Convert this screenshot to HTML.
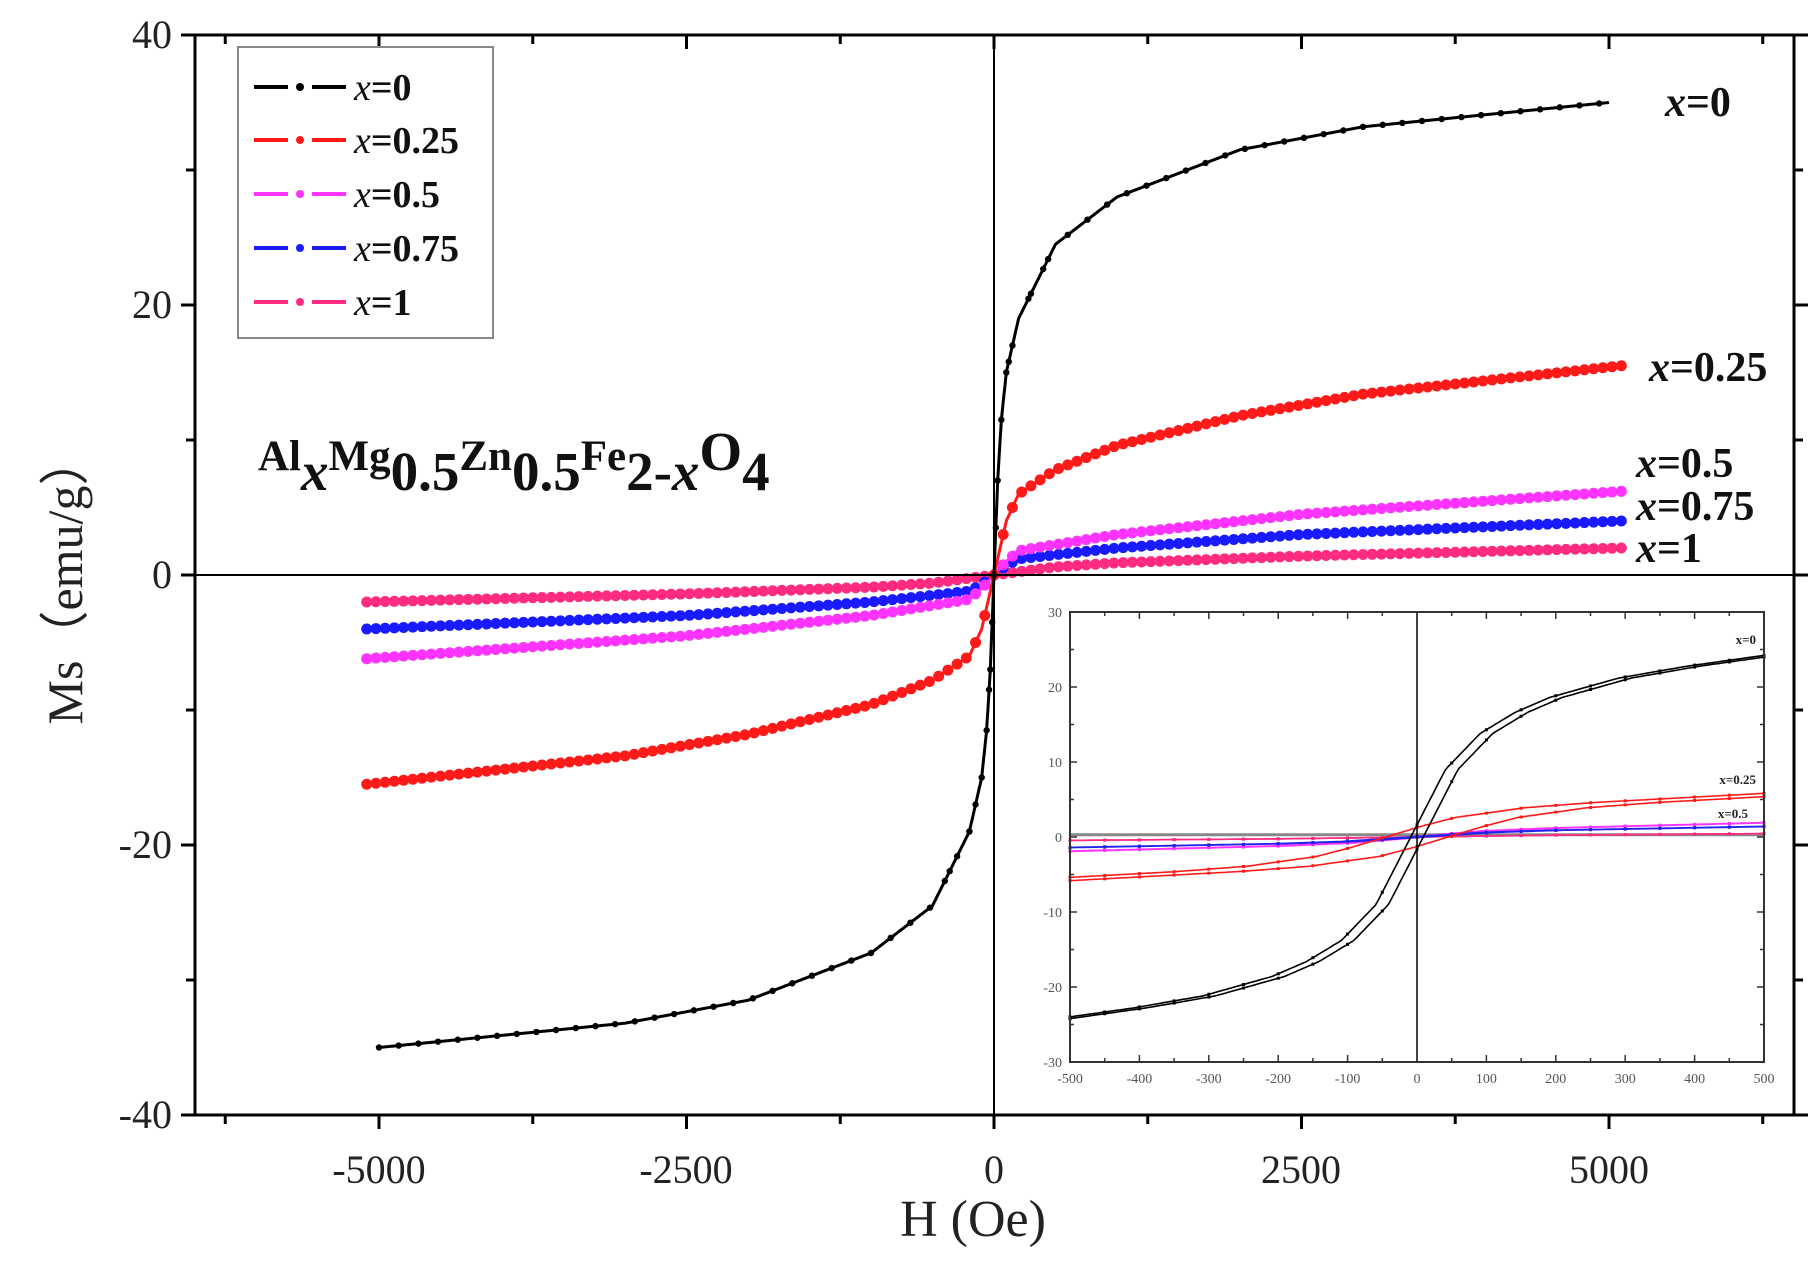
<!DOCTYPE html>
<html><head><meta charset="utf-8"><style>
html,body{margin:0;padding:0;background:#fff;}
svg{display:block;font-family:"Liberation Serif",serif;}
</style></head><body>
<svg id="s" width="1817" height="1267" viewBox="0 0 1817 1267" xmlns="http://www.w3.org/2000/svg">
<rect width="1817" height="1267" fill="#fff"/>
<g id="main"></g>
<rect x="195" y="35" width="1599" height="1080" fill="none" stroke="#000" stroke-width="3"/>
<line x1="195" y1="575" x2="1794" y2="575" stroke="#000" stroke-width="2"/>
<line x1="994" y1="35" x2="994" y2="1115" stroke="#000" stroke-width="2"/>
<g id="ticks"></g>
<g font-size="40" fill="#222" text-anchor="end">
<text x="172" y="48">40</text><text x="172" y="318">20</text><text x="172" y="588">0</text>
<text x="172" y="858">-20</text><text x="172" y="1128">-40</text>
</g>
<g font-size="40" fill="#222" text-anchor="middle">
<text x="379" y="1183">-5000</text><text x="686" y="1183">-2500</text><text x="994" y="1183">0</text>
<text x="1301" y="1183">2500</text><text x="1609" y="1183">5000</text>
</g>
<text x="973" y="1236" font-size="52" text-anchor="middle" fill="#222">H (Oe)</text>
<text transform="translate(82,580) rotate(-90)" font-size="50" text-anchor="middle" fill="#222">Ms（emu/g）</text>
<rect x="238" y="47" width="255" height="291" fill="#fff" stroke="#888" stroke-width="2"/>
<g id="leg"></g>
<text x="258" y="470" font-weight="bold" fill="#111"><tspan font-size="43">Al</tspan><tspan font-size="55" font-style="italic" dy="20">x</tspan><tspan font-size="43" dy="-20">Mg</tspan><tspan font-size="55" dy="20">0.5</tspan><tspan font-size="43" dy="-20">Zn</tspan><tspan font-size="55" dy="20">0.5</tspan><tspan font-size="43" dy="-20">Fe</tspan><tspan font-size="55" dy="20">2-</tspan><tspan font-size="55" font-style="italic">x</tspan><tspan font-size="55" dy="-20">O</tspan><tspan font-size="55" dy="20">4</tspan></text>
<g font-size="42" font-weight="bold" fill="#111">
<text x="1665" y="116"><tspan font-style="italic">x</tspan>=0</text>
<text x="1649" y="381"><tspan font-style="italic">x</tspan>=0.25</text>
<text x="1636" y="477"><tspan font-style="italic">x</tspan>=0.5</text>
<text x="1636" y="520"><tspan font-style="italic">x</tspan>=0.75</text>
<text x="1636" y="562"><tspan font-style="italic">x</tspan>=1</text>
</g>
<rect x="1070" y="612" width="694" height="450" fill="#fff"/>
<g id="inset"></g>
<rect x="1070" y="612" width="694" height="450" fill="none" stroke="#333" stroke-width="2"/>
<line x1="1417" y1="612" x2="1417" y2="1062" stroke="#000" stroke-width="1.5"/>
<g id="iticks" font-size="14" fill="#555"></g>
<g font-size="13" font-weight="bold" fill="#222" text-anchor="end">
<text x="1756" y="644">x=0</text><text x="1756" y="784">x=0.25</text><text x="1748" y="818">x=0.5</text>
</g>
</svg>
<script>
var NS="http://www.w3.org/2000/svg";
function el(p,t,a){var e=document.createElementNS(NS,t);for(var k in a)e.setAttribute(k,a[k]);p.appendChild(e);return e;}
function interp(pts,h){var s=h<0?-1:1;h=Math.abs(h);for(var i=1;i<pts.length;i++){if(h<=pts[i][0]){var a=pts[i-1],b=pts[i];return s*(a[1]+(b[1]-a[1])*(h-a[0])/(b[0]-a[0]));}}var a=pts[pts.length-2],b=pts[pts.length-1];return s*(b[1]+(b[1]-a[1])*(h-b[0])/(b[0]-a[0]));}
var S=[
 {c:"#000",r:3.2,lim:5000,step:160,p:[[0,0],[30,7],[60,11.5],[100,15],[200,19],[500,24.5],[1000,28],[2000,31.5],[3000,33.2],[5000,35]]},
 {c:"#ff1a1a",r:5.5,lim:5100,step:75,p:[[0,0],[100,4],[200,6],[500,7.8],[1000,9.6],[2000,11.8],[3000,13.4],[5100,15.5]]},
 {c:"#ff33ff",r:5.5,lim:5100,step:75,p:[[0,0],[100,1],[200,1.8],[1000,3],[2500,4.5],[5100,6.2]]},
 {c:"#1a1aff",r:5.5,lim:5100,step:75,p:[[0,0],[100,0.7],[200,1.2],[1000,2],[2500,3],[5100,4]]},
 {c:"#ff2b80",r:5.5,lim:5100,step:75,p:[[0,0],[500,0.6],[1000,0.9],[2500,1.4],[5100,2]]}
];
var g=document.getElementById("main");
function X(h){return 994+h*0.123;}function Y(m){return 575-m*13.5;}
S.slice().reverse().forEach(function(s){
 var d="";for(var h=-s.lim;h<=s.lim;h+=5){d+=(d?"L":"M")+X(h).toFixed(1)+","+Y(interp(s.p,h)).toFixed(1);}
 el(g,"path",{d:d,fill:"none",stroke:s.c,"stroke-width":3});
 var hs=[];for(var h=-s.lim;h<=s.lim;h+=s.step)hs.push(h);
 if(s.c=="#000"){[-400,-300,-200,-150,-100,-60,-30,-15,0,15,30,60,100,150,300,400].forEach(function(v){hs.push(v)});}
 hs.forEach(function(h){el(g,"circle",{cx:X(h),cy:Y(interp(s.p,h)),r:s.r,fill:s.c});});
});
var t=document.getElementById("ticks");
for(var v=-6250;v<=6250;v+=1250){var x=X(v);var big=(v%2500==0);
 el(t,"line",{x1:x,y1:1115,x2:x,y2:1115+(big?14:9),stroke:"#000","stroke-width":3});
 el(t,"line",{x1:x,y1:35,x2:x,y2:35+(big?14:9),stroke:"#000","stroke-width":3});}
for(var m=-40;m<=40;m+=10){var y=Y(m);var big=(m%20==0);
 el(t,"line",{x1:195,y1:y,x2:195-(big?14:9),y2:y,stroke:"#000","stroke-width":3});
 el(t,"line",{x1:1794,y1:y,x2:1794+(big?14:9),y2:y,stroke:"#000","stroke-width":3});}
var L=document.getElementById("leg");var labs=["0","0.25","0.5","0.75","1"];var ly=[87,140,194,248,302];
S.forEach(function(s,i){var y=ly[i];
 el(L,"line",{x1:254,y1:y,x2:288,y2:y,stroke:s.c,"stroke-width":4});
 el(L,"line",{x1:312,y1:y,x2:346,y2:y,stroke:s.c,"stroke-width":4});
 el(L,"circle",{cx:300,cy:y,r:4,fill:s.c});
 var tx=el(L,"text",{x:354,y:y+13,"font-size":38,"font-weight":"bold",fill:"#111"});
 var ts=el(tx,"tspan",{"font-style":"italic","font-weight":"normal"});ts.textContent="x";
 var t2=el(tx,"tspan",{});t2.textContent="="+labs[i];});
var I=document.getElementById("inset");
function IX(h){return 1417+h*0.694;}function IY(m){return 837-m*7.5;}
el(I,"line",{x1:1070,y1:IY(0.3),x2:1764,y2:IY(0.3),stroke:"#888","stroke-width":3});
var IS=[
 {c:"#ff2b80",c0:5,p:[[0,0],[200,0.25],[500,0.45]]},
 {c:"#ff33ff",c0:10,p:[[0,0],[100,0.8],[200,1.2],[500,1.9]]},
 {c:"#2222ee",c0:10,p:[[0,0],[100,0.6],[200,0.9],[500,1.4]]},
 {c:"#ff1a1a",c0:45,p:[[0,0],[50,1.4],[100,2.6],[200,3.9],[300,4.6],[500,5.6]]},
 {c:"#000",c0:9,p:[[0,0],[50,9],[100,13.8],[150,16.6],[200,18.6],[300,21.2],[400,22.8],[500,24.1]]}
];
IS.forEach(function(s){
 [1,-1].forEach(function(dir){var d="";
  for(var h=-500;h<=500;h+=4){var m=interp(s.p,h+dir*s.c0);d+=(d?"L":"M")+IX(h).toFixed(1)+","+IY(m).toFixed(1);}
  el(I,"path",{d:d,fill:"none",stroke:s.c,"stroke-width":1.6});
  for(var h=-500;h<=500;h+=50){el(I,"rect",{x:IX(h)-1.5,y:IY(interp(s.p,h+dir*s.c0))-1.5,width:3,height:3,fill:s.c});}
 });
});
var IT=document.getElementById("iticks");
for(var h=-500;h<=500;h+=50){var x=IX(h);var big=(h%100==0);
 el(IT,"line",{x1:x,y1:1062,x2:x,y2:1062-(big?7:4),stroke:"#333","stroke-width":1.5});
 el(IT,"line",{x1:x,y1:612,x2:x,y2:612+(big?7:4),stroke:"#333","stroke-width":1.5});
 if(big){var tt=el(IT,"text",{x:x,y:1083,"text-anchor":"middle"});tt.textContent=h;}}
for(var m=-30;m<=30;m+=5){var y=IY(m);var big=(m%10==0);
 el(IT,"line",{x1:1070,y1:y,x2:1070+(big?7:4),y2:y,stroke:"#333","stroke-width":1.5});
 el(IT,"line",{x1:1764,y1:y,x2:1764-(big?7:4),y2:y,stroke:"#333","stroke-width":1.5});
 if(big){var tt=el(IT,"text",{x:1062,y:y+5,"text-anchor":"end"});tt.textContent=m;}}
</script>
</body></html>
